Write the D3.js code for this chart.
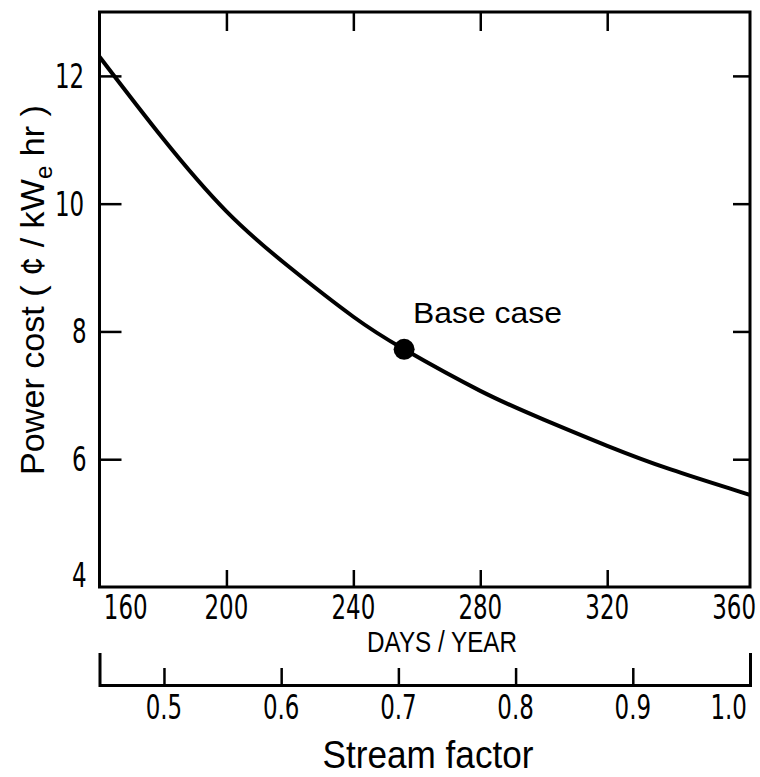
<!DOCTYPE html>
<html>
<head>
<meta charset="utf-8">
<script src="https://cdn.jsdelivr.net/npm/d3@7"></script>
<style>
  body { margin: 0; background: #fff; }
  svg text { fill: #000; }
  .num { font-family: "Liberation Sans Narrow", "DejaVu Sans Condensed", sans-serif; font-size: 34px;
         transform-box: fill-box; transform-origin: center; transform: scaleX(0.75); }
</style>
</head>
<body>
<div id="chart"></div>
<script>
// curve: days per year -> power cost (cents / kWe hr)
var days = [160, 180, 200, 220, 240, 256, 280, 300, 320, 340, 360, 365];
var cost = [12.30, 11.02, 9.88, 9.00, 8.23, 7.72, 7.07, 6.62, 6.21, 5.84, 5.52, 5.44];
var baseCase = {days: 256, cost: 7.72};

var dayTicks = [200, 240, 280, 320];
var dayLabels = [160, 200, 240, 280, 320, 360];
var costTicks = [6, 8, 10, 12];
var costLabels = [4, 6, 8, 10, 12];
var streamTicks = [0.5, 0.6, 0.7, 0.8, 0.9];
var streamLabels = ["0.5", "0.6", "0.7", "0.8", "0.9", "1.0"];

var W = 760, H = 777;
var svg = d3.select("#chart").append("svg")
    .attr("width", W)
    .attr("height", H);

var x = d3.scaleLinear().domain([160, 365]).range([99.5, 750]);
var y = d3.scaleLinear().domain([4, 13]).range([587, 12]);
var s = d3.scaleLinear().domain([0.445, 1.0]).range([99.5, 750]);

// frame
svg.append("rect")
    .attr("x", x(160)).attr("y", y(13))
    .attr("width", x(365) - x(160)).attr("height", y(4) - y(13))
    .attr("fill", "none").attr("stroke", "#000").attr("stroke-width", 3);

// inward ticks on all four sides
function bare(g) { g.select(".domain").remove(); g.selectAll("text").remove(); g.selectAll("line").attr("stroke-width", 2.5); }
svg.append("g").attr("transform", "translate(" + x(160) + ",0)")
  .call(d3.axisRight(y).tickValues(costTicks).tickSize(22)).call(bare);
svg.append("g").attr("transform", "translate(" + x(365) + ",0)")
  .call(d3.axisLeft(y).tickValues(costTicks).tickSize(17)).call(bare);
svg.append("g").attr("transform", "translate(0," + y(4) + ")")
  .call(d3.axisTop(x).tickValues(dayTicks).tickSize(17)).call(bare);
svg.append("g").attr("transform", "translate(0," + y(13) + ")")
  .call(d3.axisBottom(x).tickValues(dayTicks).tickSize(19)).call(bare);

// y labels
svg.selectAll(".ylab").data(costLabels).enter().append("text")
    .attr("class", "num")
    .attr("x", 89)
    .attr("y", function (d) { return d == 4 ? y(d) : y(d) + 12; })
    .attr("text-anchor", "end")
    .text(function (d) { return d; });

// x labels
svg.selectAll(".xlab").data(dayLabels).enter().append("text")
    .attr("class", "num")
    .attr("x", function (d) { return d == 160 ? x(d) - 3 : x(d); })
    .attr("y", 619)
    .attr("text-anchor", function (d) { return d == 160 ? "start" : "middle"; })
    .text(function (d) { return d; });

svg.append("text")
    .attr("x", 442).attr("y", 652)
    .attr("text-anchor", "middle")
    .attr("textLength", 150).attr("lengthAdjust", "spacingAndGlyphs")
    .style("font-family", "Liberation Sans Narrow, sans-serif")
    .style("font-size", "29px")
    .text("DAYS / YEAR");

// stream factor axis
var sy = 685;
svg.append("g").attr("transform", "translate(0," + sy + ")")
  .call(d3.axisTop(s).tickValues(streamTicks).tickSize(17).tickSizeOuter(32).tickFormat(""))
  .call(function (g) {
    g.select(".domain").attr("stroke-width", 3);
    g.selectAll("line").attr("stroke-width", 2.5);
  });

svg.selectAll(".slab").data(streamLabels).enter().append("text")
    .attr("class", "num")
    .attr("x", function (d) { return +d == 1 ? s(1) + 3 : s(+d); })
    .attr("y", 719)
    .attr("text-anchor", function (d) { return +d == 1 ? "end" : "middle"; })
    .text(function (d) { return d; });

svg.append("text")
    .attr("x", 428).attr("y", 768)
    .attr("text-anchor", "middle")
    .attr("textLength", 211).attr("lengthAdjust", "spacingAndGlyphs")
    .style("font-family", "Liberation Sans Narrow, sans-serif")
    .style("font-size", "38px")
    .text("Stream factor");

// y title
var yt = svg.append("text")
    .attr("transform", "translate(44,290) rotate(-90)")
    .attr("text-anchor", "middle")
    .attr("textLength", 370).attr("lengthAdjust", "spacingAndGlyphs")
    .style("font-family", "Liberation Sans Narrow, sans-serif")
    .style("font-size", "34px");
yt.append("tspan").text("Power cost ( ¢ / kW");
yt.append("tspan").attr("dy", 8).style("font-size", "24px").text("e");
yt.append("tspan").attr("dy", -8).text(" hr )");

// curve
var line = d3.line()
    .x(function (d, i) { return x(days[i]); })
    .y(function (d) { return y(d); })
    .curve(d3.curveNatural);
svg.append("path")
    .datum(cost)
    .attr("d", line)
    .attr("fill", "none")
    .attr("stroke", "#000")
    .attr("stroke-width", 4);

// base case
svg.append("circle")
    .attr("cx", x(baseCase.days)).attr("cy", y(baseCase.cost))
    .attr("r", 10.5).attr("fill", "#000");
svg.append("text")
    .attr("x", 413).attr("y", 323)
    .attr("textLength", 149).attr("lengthAdjust", "spacingAndGlyphs")
    .style("font-family", "Liberation Sans, sans-serif")
    .style("font-size", "30px")
    .text("Base case");
</script>
</body>
</html>
